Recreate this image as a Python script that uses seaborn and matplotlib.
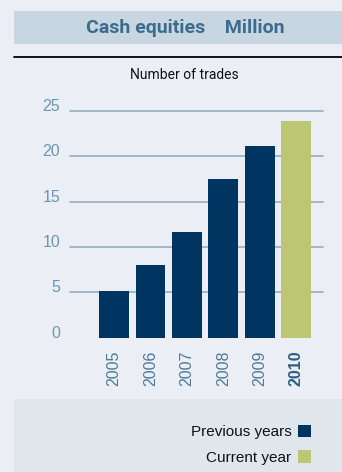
import matplotlib
matplotlib.use("Agg")
import matplotlib.pyplot as plt
import matplotlib.patches as mpatches
import matplotlib.lines as mlines
import seaborn as sns
import pandas as pd

years = ["2005", "2006", "2007", "2008", "2009", "2010"]
trades = [5.15, 8.0, 11.7, 17.5, 21.1, 23.9]
series = ["Previous years", "Previous years", "Previous years",
          "Previous years", "Previous years", "Current year"]
yticks = [0, 5, 10, 15, 20, 25]
title = "Cash equities    Million"
subtitle = "Number of trades"

palette = {"Previous years": "#003561", "Current year": "#bdc672"}

df = pd.DataFrame({"year": years, "trades": trades, "series": series})

sns.set_theme(style="white")
plt.rcParams["font.family"] = ["Liberation Sans", "DejaVu Sans"]

W, H = 342, 472
fig = plt.figure(figsize=(W / 100, H / 100), dpi=100)
fig.patch.set_facecolor("#ebeef4")

def fx(px):
    return px / W

def fy(py):
    return 1 - py / H

# title band
fig.patches.append(mpatches.Rectangle((fx(14), fy(44)), fx(328), (44 - 11) / H,
                                      transform=fig.transFigure, facecolor="#c7d6e0",
                                      edgecolor="none", zorder=-2))
fig.text(fx(185), fy(28), title, ha="center", va="center", fontsize=14,
         fontweight="bold", color="#3b6c8e", family=["Roboto", "DejaVu Sans"])
# black rule
fig.lines.append(mlines.Line2D([fx(14), 1], [fy(57), fy(57)], transform=fig.transFigure,
                               color="black", linewidth=1.3))
fig.text(fx(184), fy(75), subtitle, ha="center", va="center", fontsize=10,
         color="#111111", family=["Roboto", "DejaVu Sans"])

# legend band
fig.patches.append(mpatches.Rectangle((fx(14), 0), fx(328), (472 - 399) / H,
                                      transform=fig.transFigure, facecolor="#dfe6ec",
                                      edgecolor="none", zorder=-2))

ax = fig.add_axes([fx(70), fy(337.7), fx(323 - 70), (337.7 - 111) / H])
ax.set_facecolor("none")
sns.barplot(data=df, x="year", y="trades", hue="series", palette=palette,
            dodge=False, width=0.82, ax=ax, saturation=1, legend=True,
            linewidth=0, edgecolor="none")

ax.set_xlim(-1.21, 5.74)
ax.set_ylim(0, 25)
ax.set_yticks(yticks)
ax.set_yticklabels([str(t) for t in yticks])
for t in yticks[1:]:
    ax.axhline(t, color="#a2b8c8", linewidth=1.4, zorder=0, clip_on=False)
for s in ax.spines.values():
    s.set_visible(False)
ax.set_xlabel("")
ax.set_ylabel("")
ax.tick_params(axis="y", length=0, pad=7, labelsize=11.5, labelcolor="#6b96b3")
for lab in ax.get_yticklabels():
    lab.set_verticalalignment("baseline")
ax.tick_params(axis="x", length=0, pad=9, labelsize=11.5, labelcolor="#4d7a99")
for lab in ax.get_xticklabels():
    lab.set_rotation(90)
    if lab.get_text() == "2010":
        lab.set_fontweight("bold")
        lab.set_color("#2f5f80")

leg = ax.legend(loc="upper right", bbox_to_anchor=(fx(311), fy(425)),
                bbox_transform=fig.transFigure, frameon=False, markerfirst=False,
                fontsize=11, handlelength=0.87, handleheight=0.87,
                handletextpad=0.4, labelspacing=0.7, borderaxespad=0,
                borderpad=0)
for t in leg.get_texts():
    t.set_color("#111111")

fig.savefig("out.png", dpi=100, facecolor=fig.get_facecolor())
